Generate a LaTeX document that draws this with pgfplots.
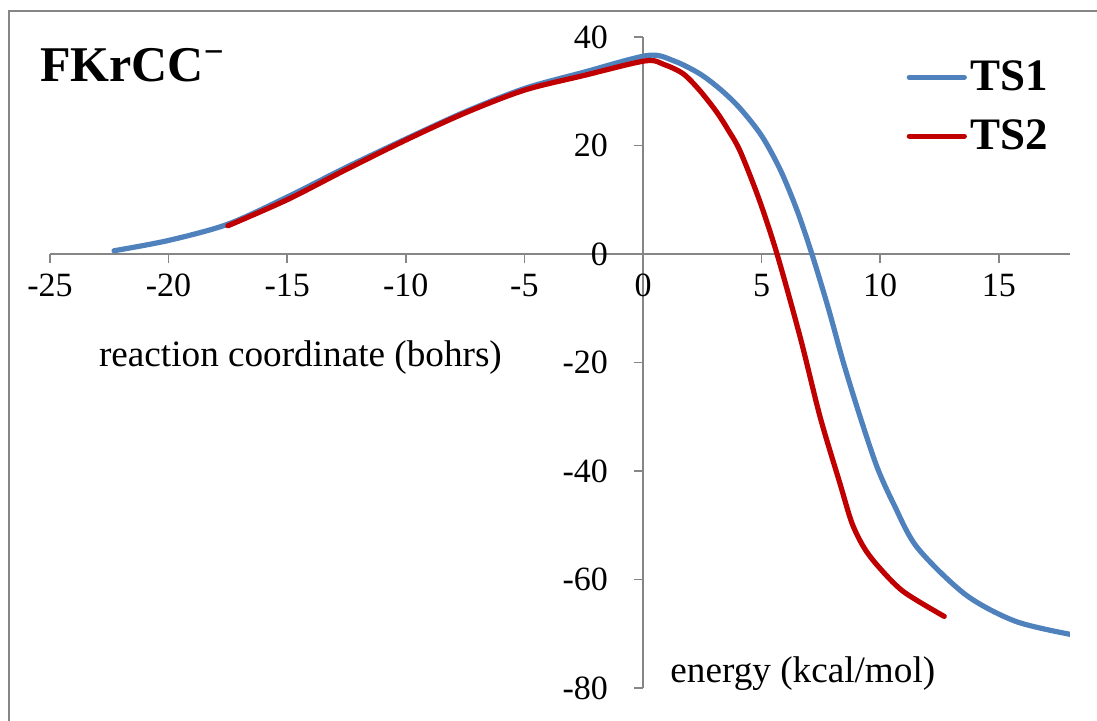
\documentclass[border=0pt]{standalone}
\usepackage{pgfplots}
\pgfplotsset{compat=1.18}
\usepackage{fontspec}
\setmainfont{Liberation Serif}

\definecolor{tsblue}{HTML}{4F81BD}
\definecolor{tsred}{HTML}{C00000}
\definecolor{axgray}{HTML}{868686}

\begin{document}
\begin{tikzpicture}[x=1pt,y=1pt]
% 1 px of the reference = 0.5pt
\useasboundingbox (0,0) rectangle (548.5,360);
\draw[axgray, line width=1pt] (4.5,-20) -- (4.5,354.5) -- (600,354.5);
\node[anchor=west, font=\fontsize{25}{30}\selectfont\bfseries] at (16.5,327.5) {FKrCC\textsuperscript{−}};
\begin{axis}[
    at={(321.5pt,233pt)}, anchor=origin,
    width=510pt, height=325.5pt, scale only axis,
    xmin=-25, xmax=18, ymin=-80, ymax=40,
    axis lines=middle, clip mode=individual,
    axis line style={-, axgray, line width=0.75pt},
    hide obscured x ticks=false, hide obscured y ticks=false,
    xtick={-25,-20,-15,-10,-5,0,5,10,15},
    xticklabels={-25,-20,-15,-10,-5,0,5,10,15},
    ytick={-80,-60,-40,-20,0,20,40},
    yticklabels={-80,-60,-40,-20,0,20,40},
    tick align=outside, major tick length=4.5pt,
    tick style={axgray, line width=0.75pt},
    minor tick num=0,
    ticklabel style={font=\fontsize{17}{20}\selectfont},
    xticklabel style={anchor=north, yshift=-2pt},
    yticklabel style={anchor=east, xshift=-9.5pt},
    legend style={draw=none, fill=none, at={(axis cs:11.1,36.4)}, anchor=north west,
        font=\fontsize{22.5}{26}\selectfont\bfseries, row sep=9pt, inner sep=0pt},
    legend cell align=left,
    legend image code/.code={\draw[#1, line cap=round] (0pt,0pt) -- (27.5pt,0pt);},
]
\addplot[tsblue, line width=2.6pt, smooth, line cap=round] coordinates {
(-22.3,0.6) (-20,2.5) (-17.5,5.5) (-15,10.5) (-12.5,16.0) (-10,21.2) (-7.5,26.2)
(-5,30.5) (-2.5,33.5) (0.2,36.6) (1.3,35.6) (2.4,33.2) (3.3,30.2) (4.1,26.8)
(5.0,21.8) (5.79,15.5) (6.49,8.1) (7.12,0) (7.8,-9.8) (8.46,-20.2) (9.16,-30.1)
(9.87,-39.3) (10.57,-46.1) (11.56,-54.1) (13.6,-62.8) (15.7,-67.7) (18.0,-70.1)
};
\addlegendentry{TS1}
\addplot[tsred, line width=2.6pt, smooth, line cap=round] coordinates {
(-17.5,5.2) (-15,10.0) (-12.5,15.6) (-10,21.0) (-7.5,26.0) (-5,30.2) (-2.5,32.9)
(0.1,35.6) (0.9,34.9) (1.7,33.2) (2.4,30.1) (3.1,26.2) (3.6,22.8) (4.1,18.9)
(4.9,10.0) (5.65,0) (6.63,-15.4) (7.47,-30.1) (8.31,-42.4) (8.8,-49.5) (9.3,-54.0)
(9.9,-57.5) (10.97,-62.2) (12.7,-66.8)
};
\addlegendentry{TS2}
\node[anchor=base west, font=\fontsize{18.6}{22}\selectfont] at (axis cs:-23.23,-20.7) {reaction coordinate (bohrs)};
\node[anchor=base west, font=\fontsize{18.6}{22}\selectfont] at (axis cs:0.86,-78.9) {energy (kcal/mol)};
\end{axis}
\end{tikzpicture}
\end{document}
